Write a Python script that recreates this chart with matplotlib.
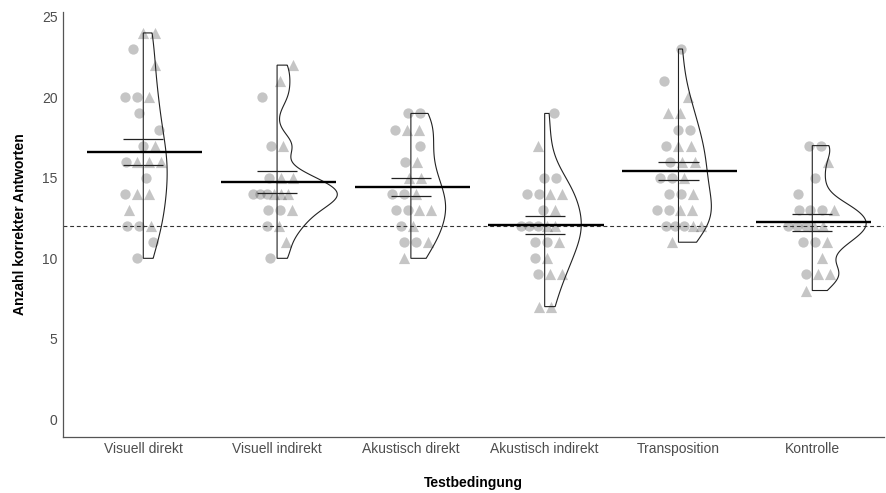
import numpy as np
import matplotlib
matplotlib.use("Agg")
import matplotlib.pyplot as plt
from matplotlib.patches import Polygon

plt.rcParams["font.family"] = ["Liberation Sans", "DejaVu Sans"]

conditions = ["Visuell direkt", "Visuell indirekt", "Akustisch direkt",
              "Akustisch indirekt", "Transposition", "Kontrolle"]

# correct answers per participant, split by group (circle / triangle marker)
circle_scores = [
    [23, 20, 20, 19, 18, 17, 16, 15, 14, 12, 12, 11, 10],
    [20, 17, 15, 14, 14, 14, 13, 13, 12, 10],
    [19, 19, 18, 17, 16, 14, 14, 13, 13, 12, 11, 11],
    [19, 15, 15, 14, 14, 13, 12, 12, 12, 11, 11, 10, 9],
    [23, 21, 18, 18, 17, 16, 15, 15, 14, 14, 13, 13, 12, 12, 12],
    [17, 17, 15, 14, 13, 13, 13, 12, 12, 12, 11, 11, 9],
]
triangle_scores = [
    [24, 24, 22, 20, 17, 16, 16, 16, 14, 14, 13, 12],
    [22, 21, 17, 15, 15, 14, 14, 14, 13, 12, 11],
    [18, 18, 16, 15, 15, 14, 13, 13, 12, 11, 10],
    [17, 14, 14, 13, 12, 12, 11, 10, 9, 9, 7, 7],
    [20, 19, 19, 17, 17, 16, 16, 15, 14, 13, 13, 12, 12, 11],
    [16, 13, 12, 12, 11, 10, 9, 9, 8],
]
chance_level = 12
y_ticks = [0, 5, 10, 15, 20, 25]


def bw_nrd0(x):
    x = np.asarray(x, float)
    sd = x.std(ddof=1)
    iqr = np.subtract(*np.percentile(x, [75, 25]))
    lo = min(sd, iqr / 1.34) if iqr > 0 else sd
    return 0.9 * lo * len(x) ** (-0.2)


def kde(x, grid):
    x = np.asarray(x, float)
    bw = bw_nrd0(x)
    z = (grid[:, None] - x[None, :]) / bw
    return np.exp(-0.5 * z ** 2).sum(axis=1) / (len(x) * bw * np.sqrt(2 * np.pi))


SINGLE_OFFSETS = (-0.05, 0.07, -0.11, 0.02, 0.12, -0.03, 0.09, -0.08)
TIE_SHIFTS = (0.0, 0.04, -0.03, 0.02, -0.05, 0.03)


def spread(values, centre):
    """Horizontal positions: ties fan out (overlapping), single values get a small offset."""
    values = np.asarray(values, float)
    xs = np.zeros_like(values)
    k = 0
    for j, v in enumerate(np.unique(values)):
        idx = np.where(values == v)[0]
        if len(idx) == 1:
            xs[idx] = centre + SINGLE_OFFSETS[k % len(SINGLE_OFFSETS)]
            k += 1
        else:
            w = min(0.045 * (len(idx) - 1), 0.13)
            xs[idx] = centre + TIE_SHIFTS[j % len(TIE_SHIFTS)] + np.linspace(-w, w, len(idx))
    return xs


fig = plt.figure(figsize=(8.86, 4.93), dpi=100)
ax = fig.add_axes([63 / 886, 1 - 436.7 / 493, (884 - 63) / 886, (436.7 - 12) / 493])

positions = np.arange(1, len(conditions) + 1)
all_scores = [np.array(c + t, float) for c, t in zip(circle_scores, triangle_scores)]

# densities for the half violins (equal area scaling)
grids, dens = [], []
for s in all_scores:
    g = np.linspace(s.min(), s.max(), 512)
    grids.append(g)
    dens.append(kde(s, g))
dmax = max(d.max() for d in dens)
half_width = 0.45

ax.axhline(chance_level, color="#333333", lw=0.8, ls=(0, (3.5, 2.5)), zorder=1)

for i, pos in enumerate(positions):
    circ = np.array(circle_scores[i], float)
    tri = np.array(triangle_scores[i], float)
    both = np.concatenate([circ, tri])
    xs = spread(both, pos)
    xc, xt = xs[:len(circ)], xs[len(circ):]
    ax.scatter(xc, circ, s=55, marker="o", color="#404040", alpha=0.3,
               linewidths=0, zorder=2)
    ax.scatter(xt, tri, s=65, marker="^", color="#404040", alpha=0.3,
               linewidths=0, zorder=2)

    g, d = grids[i], dens[i]
    xv = pos + d / dmax * half_width
    verts = np.column_stack([np.concatenate([[pos], xv, [pos]]),
                             np.concatenate([[g[0]], g, [g[-1]]])])
    ax.add_patch(Polygon(verts, closed=True, fill=False, edgecolor="#222222",
                         lw=0.8, zorder=3))

    s = all_scores[i]
    m = s.mean()
    se = s.std(ddof=1) / np.sqrt(len(s))
    ax.hlines(m, pos - 0.42, pos + 0.44, color="black", lw=1.7, zorder=4)
    ax.hlines([m - se, m + se], pos - 0.15, pos + 0.15, color="#222222",
              lw=0.9, zorder=4)

ax.set_xlim(0.4, 0.4 + (884 - 63) / 133.8)
ax.set_ylim(-1.08, 25.3)
ax.set_xticks(positions)
ax.set_xticklabels(conditions)
ax.set_yticks(y_ticks)
ax.tick_params(length=0, labelsize=10, labelcolor="#4d4d4d", pad=4)

for side in ("top", "right"):
    ax.spines[side].set_visible(False)
for side in ("left", "bottom"):
    ax.spines[side].set_color("#555555")
    ax.spines[side].set_linewidth(0.9)

ax.set_xlabel("Testbedingung", fontsize=10, fontweight="bold", labelpad=14)
ax.set_ylabel("Anzahl korrekter Antworten", fontsize=10, fontweight="bold", labelpad=11)

fig.savefig("out.png", dpi=100)
